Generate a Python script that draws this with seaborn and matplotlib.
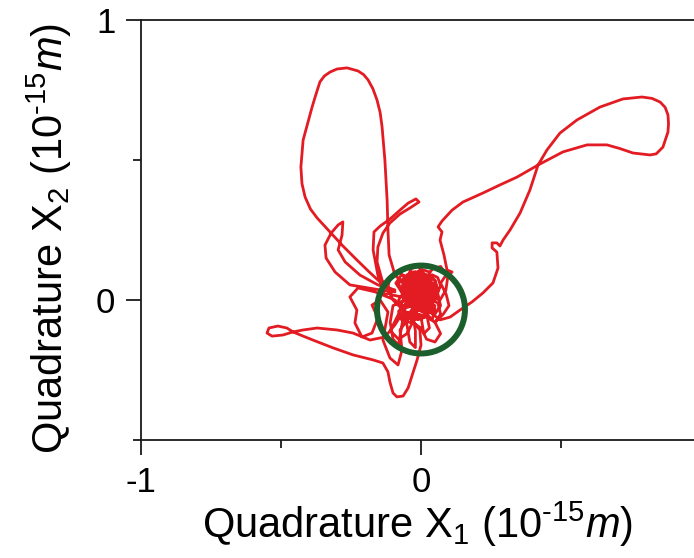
import numpy as np
import pandas as pd
import matplotlib
matplotlib.use("Agg")
import matplotlib.pyplot as plt
import seaborn as sns
from matplotlib.patches import Circle
from matplotlib.ticker import FixedLocator

sns.set_theme(style="white")
plt.rcParams["font.family"] = ["Liberation Sans", "DejaVu Sans"]
plt.rcParams["mathtext.fontset"] = "custom"
plt.rcParams["mathtext.rm"] = "Liberation Sans"
plt.rcParams["mathtext.it"] = "Liberation Sans:italic"
plt.rcParams["axes.unicode_minus"] = False
for key in ["text.color", "axes.labelcolor", "xtick.color", "ytick.color"]:
    plt.rcParams[key] = "black"

# Phase-space trajectory (X1, X2) in units of 1e-15 m, in time order, split into stretches
scribble_a = [
    (-0.02, 0.01), (0.01, 0.04), (0.03, 0.07), (0.01, 0.09), (-0.02, 0.08), (-0.04, 0.05),
    (-0.03, 0.02), (0.00, 0.00), (0.03, -0.02), (0.05, 0.01), (0.04, 0.04), (0.01, 0.05),
    (-0.02, 0.04), (-0.05, 0.02), (-0.07, -0.01), (-0.06, -0.04), (-0.03, -0.05), (0.00, -0.03),
    (0.02, 0.00), (0.00, 0.03), (-0.03, 0.06), (-0.06, 0.08), (-0.08, 0.06), (-0.07, 0.03),
    (-0.04, 0.01), (-0.01, -0.01), (0.02, -0.04), (0.05, -0.05), (0.07, -0.02), (0.06, 0.02),
    (0.04, 0.06), (0.02, 0.09), (-0.01, 0.10), (-0.04, 0.09), (-0.05, 0.06), (-0.03, 0.03),
]
tall_loop = [
    (-0.039, 0.036), (-0.093, 0.089), (-0.114, 0.161), (-0.118, 0.250), (-0.121, 0.357),
    (-0.129, 0.500), (-0.139, 0.618), (-0.146, 0.670), (-0.157, 0.714), (-0.172, 0.755),
    (-0.189, 0.786), (-0.205, 0.805), (-0.225, 0.818), (-0.264, 0.829), (-0.300, 0.825),
    (-0.325, 0.814), (-0.345, 0.800), (-0.361, 0.779), (-0.375, 0.735), (-0.389, 0.689),
    (-0.421, 0.571), (-0.429, 0.475), (-0.425, 0.415), (-0.414, 0.368), (-0.395, 0.325),
    (-0.371, 0.293), (-0.325, 0.243), (-0.279, 0.193), (-0.232, 0.146), (-0.189, 0.104),
    (-0.146, 0.064), (-0.093, 0.029),
]
side_loop = [
    (-0.146, 0.036), (-0.254, 0.054), (-0.307, 0.100), (-0.339, 0.150), (-0.343, 0.196),
    (-0.321, 0.239), (-0.296, 0.268), (-0.279, 0.279), (-0.282, 0.232), (-0.296, 0.179),
    (-0.271, 0.136), (-0.218, 0.089), (-0.154, 0.054), (-0.093, 0.036),
]
narrow_loop = [
    (-0.129, 0.018), (-0.154, 0.089), (-0.171, 0.179), (-0.168, 0.243), (-0.146, 0.264),
    (-0.111, 0.289), (-0.075, 0.321), (-0.046, 0.346), (-0.018, 0.361), (-0.007, 0.350),
    (-0.039, 0.329), (-0.075, 0.307), (-0.111, 0.275), (-0.136, 0.239), (-0.154, 0.189),
    (-0.157, 0.136), (-0.139, 0.071), (-0.104, 0.018),
]
scribble_b = [
    (-0.01, 0.00), (-0.03, -0.03), (-0.05, -0.06), (-0.02, -0.07), (0.01, -0.06), (0.03, -0.03),
    (0.03, 0.01), (0.01, 0.02), (-0.01, 0.05), (0.00, 0.08), (0.03, 0.09), (0.05, 0.07),
    (0.06, 0.04), (0.04, 0.02), (0.01, 0.01), (-0.02, -0.01), (-0.04, -0.02), (-0.06, 0.00),
    (-0.05, 0.03), (-0.02, 0.05), (0.01, 0.06), (0.03, 0.04), (0.02, 0.01), (-0.01, -0.02),
    (-0.03, 0.00), (-0.04, 0.04), (-0.06, 0.06), (-0.05, 0.09), (-0.02, 0.10), (0.01, 0.08),
    (0.02, 0.05), (0.00, 0.02), (-0.03, 0.01), (-0.06, -0.02), (-0.08, -0.04), (-0.07, -0.07),
    (-0.04, -0.08), (-0.01, -0.05), (0.02, -0.06), (0.05, -0.08), (0.07, -0.05), (0.06, -0.01),
    (0.03, 0.00), (0.032, -0.043),
]
right_loop = [
    (0.068, -0.071), (0.104, -0.061), (0.139, -0.036), (0.182, -0.007), (0.221, 0.025),
    (0.257, 0.061), (0.275, 0.114), (0.271, 0.171), (0.254, 0.186), (0.254, 0.204),
    (0.271, 0.204), (0.282, 0.193), (0.293, 0.214), (0.318, 0.250), (0.354, 0.311),
    (0.389, 0.393), (0.418, 0.482), (0.450, 0.536), (0.496, 0.596), (0.557, 0.643),
    (0.639, 0.689), (0.721, 0.718), (0.789, 0.725), (0.825, 0.720), (0.854, 0.707),
    (0.872, 0.688), (0.882, 0.661), (0.884, 0.630), (0.882, 0.600), (0.864, 0.546),
    (0.840, 0.522), (0.818, 0.518), (0.757, 0.525), (0.710, 0.541), (0.664, 0.554),
    (0.593, 0.554), (0.507, 0.529), (0.418, 0.482), (0.343, 0.439), (0.282, 0.411),
    (0.221, 0.382), (0.150, 0.350), (0.111, 0.321), (0.075, 0.282), (0.061, 0.261),
    (0.075, 0.243), (0.068, 0.214), (0.082, 0.161), (0.093, 0.107), (0.111, 0.100),
    (0.096, 0.086), (0.089, 0.036), (0.068, 0.000),
]
scribble_c = [
    (0.00, 0.02), (-0.04, 0.07), (-0.08, 0.10), (-0.11, 0.08), (-0.12, 0.04), (-0.10, 0.00),
    (-0.07, -0.03), (-0.09, -0.07), (-0.11, -0.11), (-0.08, -0.14), (-0.05, -0.12), (-0.03, -0.08),
    (0.00, -0.10), (0.02, -0.14), (0.05, -0.15), (0.07, -0.12), (0.05, -0.08), (0.08, -0.05),
    (0.10, -0.02), (0.09, 0.02), (0.07, 0.06), (0.09, 0.09), (0.07, 0.12), (0.04, 0.11),
    (0.02, 0.08), (-0.01, 0.12), (-0.04, 0.11), (-0.03, 0.07), (0.00, 0.04), (-0.05, -0.02),
    (-0.093, -0.089),
]
figure_eight = [
    (-0.129, -0.132), (-0.182, -0.143), (-0.243, -0.118), (-0.300, -0.107), (-0.371, -0.100),
    (-0.421, -0.107), (-0.457, -0.114), (-0.493, -0.125), (-0.532, -0.129), (-0.550, -0.118),
    (-0.543, -0.100), (-0.511, -0.093), (-0.479, -0.100), (-0.457, -0.114), (-0.421, -0.129),
    (-0.386, -0.143), (-0.314, -0.171), (-0.243, -0.196), (-0.171, -0.214), (-0.136, -0.225),
    (-0.118, -0.257), (-0.111, -0.293), (-0.100, -0.332), (-0.086, -0.346), (-0.064, -0.343),
    (-0.046, -0.314), (-0.029, -0.261), (-0.014, -0.214), (0.000, -0.161), (-0.004, -0.107),
]
left_knots = [
    (-0.093, 0.000), (-0.164, 0.029), (-0.225, 0.043), (-0.254, 0.011), (-0.229, -0.036),
    (-0.236, -0.082), (-0.211, -0.132), (-0.175, -0.118), (-0.154, -0.064), (-0.175, -0.018),
    (-0.146, 0.000), (-0.118, -0.043), (-0.136, -0.143), (-0.111, -0.207), (-0.082, -0.232),
    (-0.068, -0.179), (-0.075, -0.107), (-0.04, -0.06), (-0.01, -0.02), (0.02, 0.03),
]
lower_strands = [
    (-0.10, -0.02), (-0.11, -0.08), (-0.10, -0.14), (-0.08, -0.16), (-0.07, -0.10),
    (-0.06, -0.04), (-0.05, -0.09), (-0.04, -0.15), (-0.02, -0.17), (-0.02, -0.11),
    (-0.03, -0.05), (0.00, -0.06), (0.01, -0.12), (0.03, -0.10), (0.02, -0.05),
    (0.04, -0.07), (0.05, -0.03), (0.02, 0.00),
]
dense_core = [
    (-0.01, 0.05), (-0.02, 0.07), (-0.04, 0.07), (-0.05, 0.05), (-0.04, 0.03), (-0.02, 0.03),
    (0.02, 0.02), (0.02, 0.04), (0.00, 0.05), (-0.02, 0.03), (-0.02, 0.01), (0.00, -0.01),
    (0.05, 0.04), (0.05, 0.07), (0.03, 0.08), (0.01, 0.07), (0.01, 0.04), (0.03, 0.02),
    (-0.02, 0.00), (-0.03, 0.03), (-0.06, 0.03), (-0.08, 0.00), (-0.06, -0.03), (-0.03, -0.02),
    (0.04, -0.01), (0.04, -0.04), (0.02, -0.05), (0.00, -0.04), (-0.01, -0.01), (0.01, 0.01),
    (0.00, 0.08), (-0.01, 0.10), (-0.04, 0.10), (-0.05, 0.08), (-0.03, 0.06), (-0.01, 0.06),
    (0.06, 0.01), (0.06, 0.04), (0.03, 0.04), (0.02, 0.01), (0.03, -0.02), (0.05, -0.02),
    (-0.01, -0.03), (-0.02, -0.01), (-0.05, -0.01), (-0.07, -0.03), (-0.05, -0.06), (-0.02, -0.05),
    (0.01, 0.03), (0.01, 0.06), (-0.01, 0.07), (-0.03, 0.05), (-0.03, 0.02), (-0.01, 0.01),
    (0.03, 0.07), (0.03, 0.10), (0.00, 0.11), (-0.02, 0.09), (-0.01, 0.06), (0.01, 0.05),
    (-0.04, 0.05), (-0.04, 0.08), (-0.07, 0.09), (-0.09, 0.06), (-0.07, 0.03), (-0.05, 0.04),
    (0.02, -0.03), (0.01, -0.01), (-0.02, -0.02), (-0.03, -0.05), (-0.01, -0.07), (0.02, -0.06),
    (0.07, 0.05), (0.06, 0.08), (0.04, 0.09), (0.03, 0.06), (0.04, 0.04), (0.06, 0.03),
    (0.00, 0.00), (-0.01, 0.02), (-0.03, 0.02), (-0.04, 0.00), (-0.03, -0.02), (-0.01, -0.02),
]
inner_knot = [
    (-0.005, 0.035), (-0.015, 0.050), (-0.035, 0.045), (-0.040, 0.025), (-0.025, 0.012),
    (-0.005, 0.020), (0.010, 0.030), (0.015, 0.055), (-0.005, 0.065), (-0.025, 0.060),
    (-0.030, 0.040), (-0.015, 0.025), (0.005, 0.010), (0.025, 0.015), (0.030, 0.035),
    (0.020, 0.060), (0.000, 0.085), (-0.025, 0.085), (-0.050, 0.070), (-0.060, 0.045),
    (-0.055, 0.015), (-0.035, -0.005), (-0.010, -0.015), (0.015, -0.010), (0.035, 0.005),
    (0.045, 0.030), (0.040, 0.055), (0.020, 0.075), (-0.005, 0.080), (-0.030, 0.070),
    (-0.045, 0.050), (-0.045, 0.020), (-0.030, 0.000), (-0.005, -0.030), (0.020, -0.025),
    (0.030, -0.005), (0.015, 0.015), (-0.010, 0.030), (-0.020, 0.050), (-0.005, 0.045),
    (0.015, 0.040), (0.035, 0.050), (0.050, 0.060), (0.055, 0.020), (0.040, -0.010),
    (0.010, -0.040), (-0.020, -0.035), (-0.045, -0.015), (-0.065, 0.010), (-0.070, 0.040),
    (-0.060, 0.070), (-0.035, 0.095), (-0.010, 0.095), (0.015, 0.085), (0.010, 0.060),
    (-0.010, 0.040), (-0.020, 0.020), (0.000, 0.000),
]

stretches = [scribble_a, tall_loop, side_loop, narrow_loop, scribble_b, right_loop,
             scribble_c, figure_eight, left_knots, lower_strands, dense_core, inner_knot]
points = [p for s in stretches for p in s]
traj = pd.DataFrame(points, columns=["X1", "X2"])
traj["t"] = np.arange(len(traj))

# Green ring around the origin region
ring_center = (0.0, -0.034)
ring_radius = 0.157

fig = plt.figure(figsize=(6.94, 5.58), dpi=100)
ax = fig.add_axes([141 / 694, 1 - 440 / 558, (694 - 141) / 694, 420 / 558])

sns.lineplot(data=traj, x="X1", y="X2", sort=False, estimator=None,
             color="#e31b23", lw=2.0, ax=ax, zorder=2)
ax.add_patch(Circle(ring_center, ring_radius, fill=False, ec="#1c5f2c", lw=4.3, zorder=3))

ax.set_xlim(-1, 0.975)
ax.set_ylim(-0.5, 1)

for side in ["left", "bottom", "top"]:
    ax.spines[side].set_visible(True)
    ax.spines[side].set_color("#1a1a1a")
    ax.spines[side].set_linewidth(1.3)
ax.spines["right"].set_visible(False)

ax.xaxis.set_major_locator(FixedLocator([-1, 0]))
ax.xaxis.set_minor_locator(FixedLocator([-0.5, 0.5]))
ax.yaxis.set_major_locator(FixedLocator([0, 1]))
ax.yaxis.set_minor_locator(FixedLocator([-0.5, 0.5]))
ax.set_xticklabels(["-1", "0"])
ax.set_yticklabels(["0", "1"])
ax.tick_params(which="major", direction="out", length=10.5, width=1.3, color="#1a1a1a",
               labelsize=25, pad=8, bottom=True, left=True, top=False, right=False)
ax.tick_params(which="minor", direction="out", length=5.8, width=1.3, color="#1a1a1a",
               bottom=True, left=True, top=False, right=False)

ax.set_xlabel(r"Quadrature X$_1$ (10$^{\text{-}15}$$\mathit{m}$)", fontsize=30, labelpad=1)
ax.set_ylabel(r"Quadrature X$_2$ (10$^{\text{-}15}$$\mathit{m}$)", fontsize=30, labelpad=16)
ax.yaxis.label.set_y(0.48)

fig.savefig("out.png", dpi=100)
